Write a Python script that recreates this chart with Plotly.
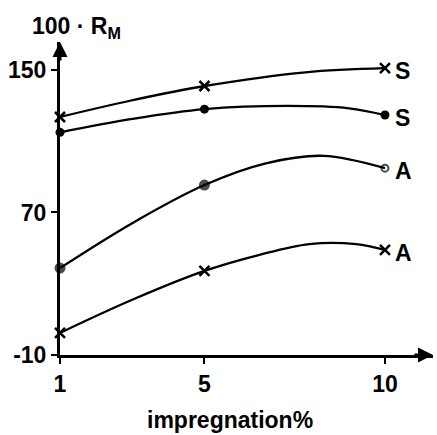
import plotly.graph_objects as go

# Measured points (impregnation %)
x_pts = [1, 5, 10]
S_cross = [123.6, 141, 151]
S_dot = [115, 128, 124.7]
A_dot = [38.8, 85.4, 94.9]
A_cross = [2.4, 37.2, 49]

# Hand-drawn curves
S_cross_cx = [1, 3, 5, 7.8, 10]
S_cross_cy = [123.6, 133, 141, 148.7, 151]
S_dot_cx = [1, 3, 5, 7.3, 9, 10]
S_dot_cy = [115, 122.5, 128, 129.8, 128.5, 124.7]
A_dot_cx = [1, 3, 5, 6.7, 8.3, 10]
A_dot_cy = [38.8, 64, 85.4, 97.6, 101.8, 94.9]
A_cross_cx = [1, 3, 5, 6.5, 7.9, 9.2, 10]
A_cross_cy = [2.4, 21, 37.2, 46.1, 52.3, 52.3, 49]

labels = ["S", "S", "A", "A"]
y_ticks = [-10, 70, 150]
x_ticks = [1, 5, 10]

X_MAX = 11.33
Y_MIN, Y_MAX = -10, 165.7

fig = go.Figure()
line = dict(color="black", width=2.3, shape="spline", smoothing=1)
for cx, cy in [(S_cross_cx, S_cross_cy), (S_dot_cx, S_dot_cy),
               (A_dot_cx, A_dot_cy), (A_cross_cx, A_cross_cy)]:
    fig.add_trace(go.Scatter(x=cx, y=cy, mode="lines", line=line,
                             showlegend=False, hoverinfo="skip", cliponaxis=False))

cross_m = dict(symbol="x-thin-open", size=10, color="black",
               line=dict(color="black", width=2.5))
fig.add_trace(go.Scatter(x=x_pts, y=S_cross, mode="markers", marker=cross_m,
                         showlegend=False, cliponaxis=False))
fig.add_trace(go.Scatter(x=x_pts, y=A_cross, mode="markers", marker=cross_m,
                         showlegend=False, cliponaxis=False))
fig.add_trace(go.Scatter(x=x_pts, y=S_dot, mode="markers",
                         marker=dict(symbol="circle", size=9, color="black"),
                         showlegend=False, cliponaxis=False))
fig.add_trace(go.Scatter(x=x_pts, y=A_dot, mode="markers",
                         marker=dict(symbol=["circle", "circle", "circle-open"], size=[9, 9, 7],
                                     color="black", line=dict(color="black", width=2)),
                         showlegend=False, cliponaxis=False))

font = dict(family="Liberation Sans, Arial, sans-serif", color="black", weight="bold")

# right-hand labels
for yv, lab in zip([S_cross[-1], S_dot[-1], A_dot[-1], A_cross[-1]], labels):
    fig.add_annotation(x=x_pts[-1], y=yv, text=lab, showarrow=False, xanchor="left",
                       xshift=8, yshift=-3, font=dict(size=23, **font))

# axis arrowheads
fig.add_annotation(x=1, y=Y_MAX, xref="x", yref="y", ax=0, ay=20,
                   text="", showarrow=True, arrowhead=2, arrowsize=1, arrowwidth=3,
                   arrowcolor="black")
fig.add_annotation(x=X_MAX, y=Y_MIN, xref="x", yref="y", ax=-20, ay=0,
                   text="", showarrow=True, arrowhead=2, arrowsize=1, arrowwidth=3,
                   arrowcolor="black")

# axis titles
fig.add_annotation(x=1, y=1, xref="x", yref="paper", text="100 · R<sub>M</sub>",
                   showarrow=False, xanchor="left", yanchor="bottom", xshift=-30, yshift=-2,
                   font=dict(size=23, **font))
fig.add_annotation(x=0.455, y=0, xref="paper", yref="paper", text="impregnation%",
                   showarrow=False, xanchor="center", yanchor="top", yshift=-50,
                   font=dict(size=23, **font))

fig.update_xaxes(range=[1, X_MAX], tickvals=x_ticks, ticktext=[str(v) for v in x_ticks],
                 ticks="outside", ticklen=6, tickwidth=2, tickcolor="black",
                 showgrid=False, zeroline=False, showline=True, linewidth=3,
                 linecolor="black", layer="below traces",
                 tickfont=dict(size=23, **font))
fig.update_yaxes(range=[Y_MIN, Y_MAX], tickvals=y_ticks, ticktext=[str(v) for v in y_ticks],
                 ticks="outside", ticklen=6, tickwidth=2, tickcolor="black",
                 showgrid=False, zeroline=False, showline=True, linewidth=3,
                 linecolor="black", layer="below traces",
                 tickfont=dict(size=23, **font))

fig.update_layout(width=437, height=435, margin=dict(l=60, r=4, t=42, b=80),
                  plot_bgcolor="white", paper_bgcolor="white")

fig.write_html("out.html")
